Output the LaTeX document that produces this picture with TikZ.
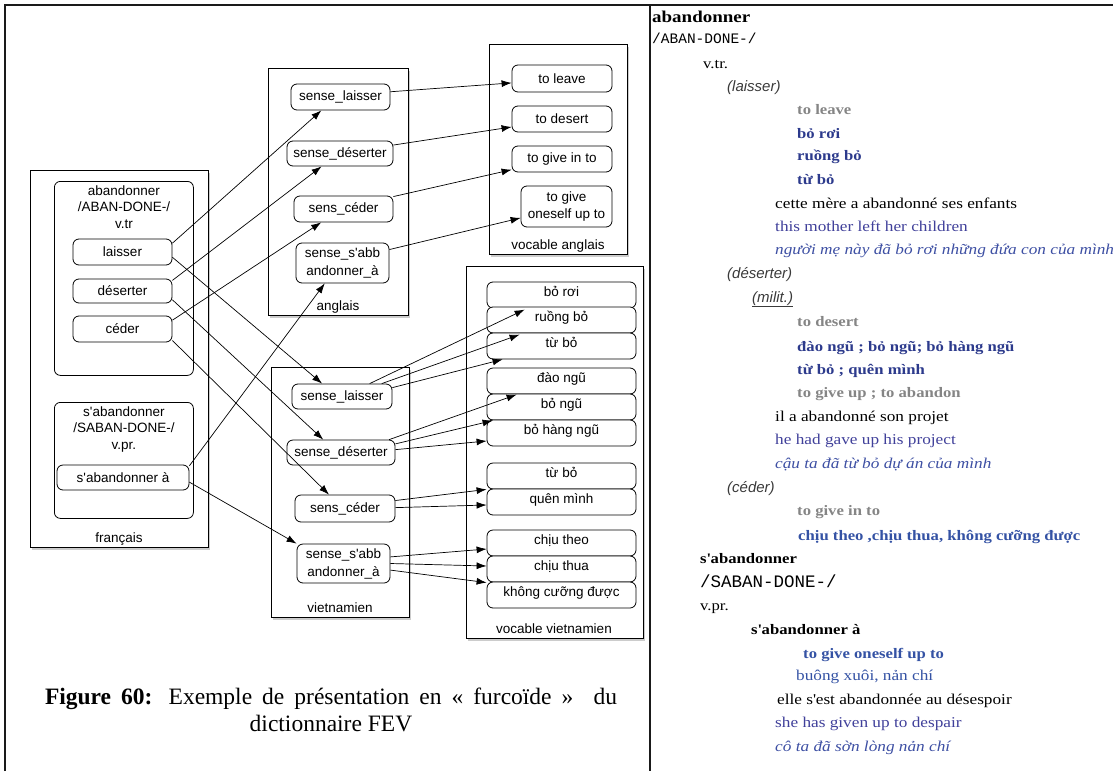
\documentclass[tikz,border=0pt]{standalone}
\usepackage{fontspec}
\setmainfont{Liberation Sans}
\newfontfamily\capfont{Liberation Serif}
\newfontfamily\dictrm[FakeStretch=1.15]{Liberation Serif}
\newfontfamily\dictsf{Liberation Sans}
\newfontfamily\dicttt{Liberation Mono}
\usetikzlibrary{arrows.meta,shadows,positioning}
\definecolor{framegray}{HTML}{1A1A1A}
\definecolor{sensegray}{HTML}{3A3A3A}
\definecolor{glossgray}{HTML}{858585}
\definecolor{vietnavy}{HTML}{2C3A8C}
\definecolor{vietblue}{HTML}{3452A4}
\definecolor{exblue}{HTML}{40409A}
\definecolor{exitalic}{HTML}{3D4FA3}
\newcommand\apos{\textquotesingle}

\tikzset{
  panel/.style={draw, fill=white, line width=0.9pt, inner sep=0pt, anchor=north west,
    drop shadow={shadow xshift=1.5pt, shadow yshift=-2.5pt, opacity=0.4}},
  entrybox/.style={draw, rounded corners=6pt, line width=0.8pt, inner sep=0pt, anchor=north west},
  sensebox/.style={draw, fill=white, rounded corners=6pt, line width=0.8pt,
    minimum height=26pt, inner sep=1pt, align=center},
  vocbox/.style={sensebox, minimum width=149pt, text height=10pt, text depth=8pt},
  conn/.style={-{Latex[length=10pt,width=7pt]}, line width=0.7pt},
  dline/.style={anchor=base west, inner sep=0pt},
  dhead/.style={dline, font=\dictrm\bfseries\fontsize{16.5}{18}\selectfont},
  dphon/.style={dline, font=\dicttt\fontsize{14.5}{16}\selectfont},
  dgram/.style={dline, font=\dictrm\fontsize{14.5}{16}\selectfont},
  dsense/.style={dline, sensegray, font=\dictsf\itshape\fontsize{15}{17}\selectfont},
  dgloss/.style={dline, glossgray, font=\dictrm\bfseries\fontsize{14.5}{16}\selectfont},
  dviet/.style={dline, vietnavy, font=\dictrm\bfseries\fontsize{14.5}{16}\selectfont},
  dex/.style={dline, font=\dictrm\fontsize{15}{17}\selectfont},
  dexen/.style={dex, exblue},
  dexvi/.style={dline, exitalic, font=\dictrm\itshape\fontsize{15}{17}\selectfont},
}

\begin{document}
\begin{tikzpicture}[x=1pt, y=-1pt, font=\fontsize{13.5}{16.5}\selectfont]
  \useasboundingbox (0,0) rectangle (1113,771);
  \draw[framegray, line width=1.6pt] (5,771) -- (5,5) -- (1113,5);
  \draw[framegray, line width=1.6pt] (650,5) -- (650,771);

  \node[panel, minimum width=178pt, minimum height=377pt] (fr) at (30,170) {};
  \node[panel, minimum width=140pt, minimum height=247pt] (en) at (268,68) {};
  \node[panel, minimum width=138pt, minimum height=210pt] (va) at (489,44) {};
  \node[panel, minimum width=138pt, minimum height=250pt] (vn) at (271,367) {};
  \node[panel, minimum width=177pt, minimum height=372pt] (vv) at (466,266) {};
  \node (fr-lbl) at (119,539) {français};
  \node (en-lbl) at (338,307) {anglais};
  \node (va-lbl) at (558,246) {vocable anglais};
  \node (vn-lbl) at (340,608) {vietnamien};
  \node (vv-lbl) at (554,629) {vocable vietnamien};

  \node[entrybox, minimum width=139pt, minimum height=194pt] (fr-abent) at (54,181) {};
  \node[below=1pt of fr-abent.north, align=center] (fr-abhead) {abandonner\\/ABAN-DONE-/\\v.tr};
  \node[entrybox, minimum width=139pt, minimum height=116pt] (fr-sabent) at (54,402) {};
  \node[below=1pt of fr-sabent.north, align=center] (fr-sabhead) {s\apos abandonner\\/SABAN-DONE-/\\v.pr.};
  \node[sensebox, minimum width=99pt] (fr-laisser) at (122.5,252) {laisser};
  \node[sensebox, minimum width=99pt, minimum height=24pt] (fr-deserter) at (122.5,291) {déserter};
  \node[sensebox, minimum width=99pt] (fr-ceder) at (122.5,329) {céder};
  \node[sensebox, minimum width=132pt, minimum height=25pt] (fr-sab) at (123,477.5) {s\apos abandonner à};

  \node[sensebox, minimum width=99pt] (en-laisser) at (340.5,97) {sense\_laisser};
  \node[sensebox, minimum width=106pt, minimum height=25pt] (en-deserter) at (340,153.5) {sense\_déserter};
  \node[sensebox, minimum width=99pt] (en-ceder) at (343.5,209) {sens\_céder};
  \node[sensebox, minimum width=93pt, minimum height=40pt] (en-sab) at (342.5,263) {sense\_s\apos abb\\[1.5pt]andonner\_à};

  \node[sensebox, minimum width=100pt, minimum height=27pt] (va-leave) at (562,78.5) {to leave};
  \node[sensebox, minimum width=100pt] (va-desert) at (562,119) {to desert};
  \node[sensebox, minimum width=100pt] (va-givein) at (562,159) {to give in to};
  \node[sensebox, minimum width=91pt, minimum height=41pt] (va-giveup) at (566.5,206.5) {to give\\oneself up to};

  \node[sensebox, minimum width=100pt, minimum height=25pt] (vn-laisser) at (342,396.5) {sense\_laisser};
  \node[sensebox, minimum width=108pt, minimum height=25pt] (vn-deserter) at (341,452.5) {sense\_déserter};
  \node[sensebox, minimum width=100pt, minimum height=27pt] (vn-ceder) at (345,508.5) {sens\_céder};
  \node[sensebox, minimum width=93pt, minimum height=39pt] (vn-sab) at (343.5,563.5) {sense\_s\apos abb\\[1.5pt]andonner\_à};

  \foreach \vid/\ytop/\word in {vv1/282/bỏ rơi, vv2/307/ruồng bỏ, vv3/333/từ bỏ,
      vv4/368/đào ngũ, vv5/394/bỏ ngũ, vv6/420/bỏ hàng ngũ, vv7/463/từ bỏ, vv8/489/quên mình,
      vv9/530/chịu theo, vv10/556/chịu thua, vv11/582/không cưỡng được}
    \node[vocbox] (\vid) at (561.5,\ytop+13) {\word};

  \foreach \a/\b in {fr-laisser.10/en-laisser.-145, fr-deserter.12/en-deserter.-145,
      fr-ceder.10/en-ceder.-149, fr-sab.10/en-sab.-131,
      fr-laisser.-6/vn-laisser.147, fr-deserter.-10/vn-deserter.144,
      fr-ceder.-13/vn-ceder.139, fr-sab.-4/vn-sab.157,
      en-laisser.6/va-leave.185, en-deserter.9/va-desert.189,
      en-ceder.14/va-givein.192, en-sab.16/va-giveup.194}
    \draw[conn] (\a) -- (\b);
  \draw[conn] (vn-laisser.25) -- ([xshift=38pt,yshift=-3pt]vv2.north west);
  \draw[conn] (vn-laisser.18) -- ([xshift=33pt,yshift=-2pt]vv3.north west);
  \draw[conn] (vn-laisser.10) -- ([xshift=16pt]vv3.south west);
  \draw[conn] (vn-deserter.15) -- ([xshift=30pt,yshift=-1pt]vv5.north west);
  \draw[conn] (vn-deserter.9) -- ([xshift=6pt,yshift=-1pt]vv6.north west);
  \draw[conn] (vn-deserter.3) -- ([yshift=-8pt]vv6.west);
  \draw[conn] (vn-ceder.9) -- (vv7.south west);
  \draw[conn] (vn-ceder.1) -- ([yshift=-3pt]vv8.west);
  \draw[conn] (vn-sab.8) -- ([yshift=-6pt]vv9.west);
  \draw[conn] (vn-sab.0) -- ([yshift=3pt]vv10.west);
  \draw[conn] (vn-sab.-8) -- ([yshift=-1pt]vv11.north west);

  \node[align=center, font=\capfont\fontsize{23.5}{27}\selectfont] (caption) at (331,710)
    {\makebox[572pt][s]{\textbf{Figure 60:} Exemple de présentation en « furcoïde »\ \ du}\\dictionnaire FEV};

  \begin{scope}
    \clip (651,6) rectangle (1113,771);
    \node[dhead] (d-ab) at (652,23) {abandonner};
    \node[dphon] (d-abphon) at (652,43) {/ABAN-DONE-/};
    \node[dgram] (d-vtr) at (703,68) {v.tr.};
    \node[dsense] (d-laisser) at (727,91) {(laisser)};
    \node[dgloss] (d-leave) at (797,114) {to leave};
    \node[dviet] (d-boroi) at (797,138) {bỏ rơi};
    \node[dviet] (d-ruong) at (797,160) {ruồng bỏ};
    \node[dviet] (d-tubo) at (797,184) {từ bỏ};
    \node[dex] (d-ex1) at (775,208) {cette mère a abandonné ses enfants};
    \node[dexen] (d-ex1en) at (775,231) {this mother left her children};
    \node[dexvi] (d-ex1vi) at (775,254) {người mẹ này đã bỏ rơi những đứa con của mình};
    \node[dsense] (d-deserter) at (727,278) {(déserter)};
    \node[dsense] (d-milit) at (752,302) {\underline{(milit.)}};
    \node[dgloss] (d-desert) at (797,326) {to desert};
    \node[dviet] (d-daongu) at (797,351) {đào ngũ ; bỏ ngũ; bỏ hàng ngũ};
    \node[dviet] (d-quen) at (797,374) {từ bỏ ; quên mình};
    \node[dgloss] (d-giveup) at (797,397) {to give up ; to abandon};
    \node[dex] (d-ex2) at (775,421) {il a abandonné son projet};
    \node[dexen] (d-ex2en) at (775,444) {he had gave up his project};
    \node[dexvi] (d-ex2vi) at (775,468) {cậu ta đã từ bỏ dự án của mình};
    \node[dsense] (d-ceder) at (727,492) {(céder)};
    \node[dgloss] (d-givein) at (797,515) {to give in to};
    \node[dviet, vietblue] (d-chiu) at (798,540) {chịu theo ,chịu thua, không cưỡng được};
    \node[dhead, font=\dictrm\bfseries\fontsize{14.5}{16}\selectfont] (d-sab) at (700,563) {s\apos abandonner};
    \node[dphon, font=\dicttt\fontsize{17.5}{19}\selectfont] (d-sabphon) at (700,587) {/SABAN-DONE-/};
    \node[dgram] (d-vpr) at (700,610) {v.pr.};
    \node[dhead, font=\dictrm\bfseries\fontsize{14.5}{16}\selectfont] (d-saba) at (751,634) {s\apos abandonner à};
    \node[dviet, vietblue] (d-oneself) at (803,658) {to give oneself up to};
    \node[dexen, vietblue] (d-buong) at (796,680) {buông xuôi, nản chí};
    \node[dex] (d-ex3) at (777,704) {elle s\apos est abandonnée au désespoir};
    \node[dexen] (d-ex3en) at (775,727) {she has given up to despair};
    \node[dexvi] (d-ex3vi) at (775,751) {cô ta đã sờn lòng nản chí};
  \end{scope}
\end{tikzpicture}
\end{document}
